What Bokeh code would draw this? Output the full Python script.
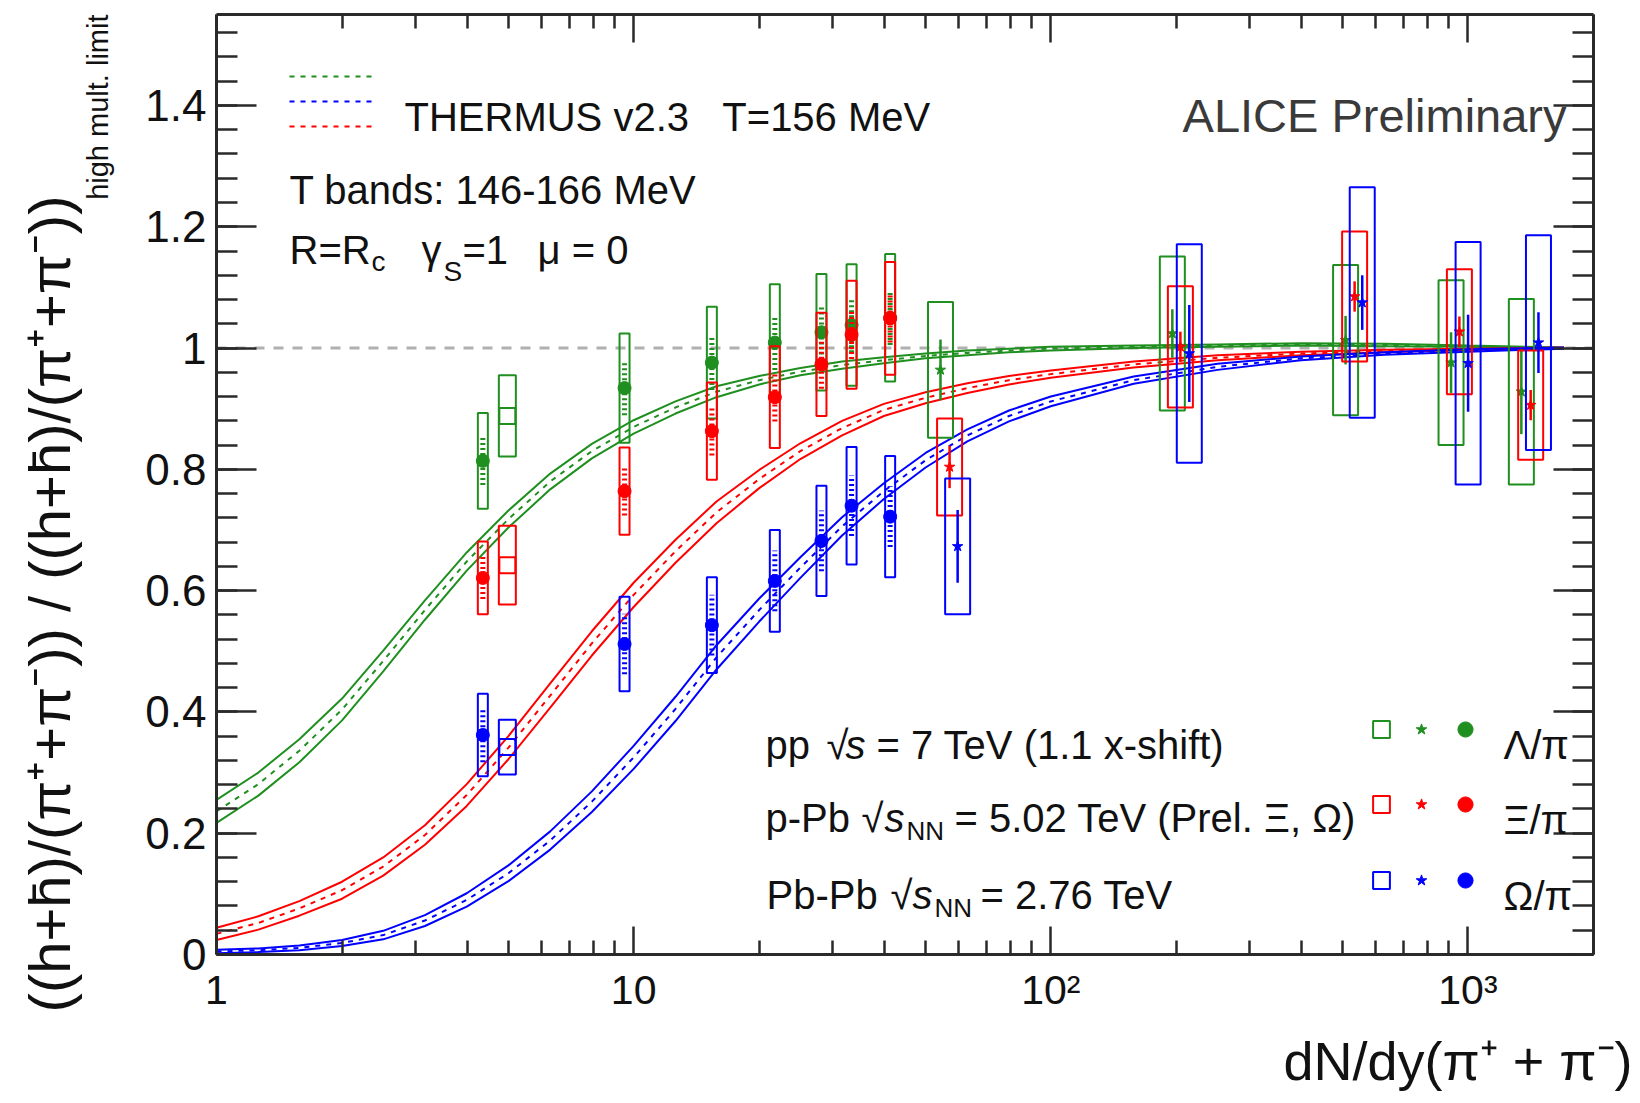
import math
import numpy as np
from bokeh.plotting import figure
from bokeh.models import (FixedTicker, CustomJSTickFormatter, LinearAxis, LogAxis,
                          Span, Label, Legend, LegendItem, Range1d, Title)
from bokeh.embed import file_html
from bokeh.resources import INLINE

# ---------------- data ----------------
curve_x = [1, 1.26, 1.58, 2.0, 2.51, 3.16, 3.98, 5.01, 6.31, 7.94, 10, 12.6, 15.8, 20, 25.1,
           31.6, 39.8, 50.1, 63.1, 79.4, 100, 158, 251, 398, 631, 1000, 1700]
lambda_mid = [0.236, 0.281, 0.336, 0.404, 0.484, 0.568, 0.648, 0.718, 0.780, 0.830, 0.870, 0.902,
              0.928, 0.947, 0.961, 0.972, 0.980, 0.987, 0.992, 0.996, 0.999, 1.002, 1.004, 1.006,
              1.005, 1.003, 1.000]
lambda_hw = [0.019, 0.019, 0.019, 0.018, 0.017, 0.016, 0.015, 0.014, 0.013, 0.012, 0.011, 0.010,
             0.009, 0.007, 0.006, 0.006, 0.005, 0.004, 0.004, 0.003, 0.003, 0.002, 0.002, 0.002,
             0.002, 0.001, 0.001]
xi_mid = [0.034, 0.052, 0.076, 0.106, 0.145, 0.197, 0.263, 0.341, 0.427, 0.513, 0.593, 0.665,
          0.729, 0.784, 0.830, 0.868, 0.898, 0.918, 0.934, 0.947, 0.957, 0.973, 0.984, 0.991,
          0.995, 0.998, 1.000]
xi_hw = [0.010, 0.011, 0.012, 0.014, 0.015, 0.016, 0.018, 0.019, 0.020, 0.020, 0.020, 0.019,
         0.018, 0.015, 0.013, 0.012, 0.010, 0.009, 0.008, 0.007, 0.006, 0.005, 0.004, 0.003,
         0.002, 0.001, 0.001]
omega_mid = [0.005, 0.007, 0.011, 0.019, 0.032, 0.056, 0.090, 0.134, 0.188, 0.252, 0.325, 0.405,
             0.490, 0.568, 0.638, 0.706, 0.764, 0.815, 0.856, 0.888, 0.912, 0.947, 0.969, 0.983,
             0.991, 0.996, 1.000]
omega_hw = [0.003, 0.003, 0.004, 0.005, 0.007, 0.009, 0.011, 0.013, 0.015, 0.017, 0.019, 0.020,
            0.020, 0.019, 0.017, 0.015, 0.013, 0.012, 0.010, 0.009, 0.008, 0.006, 0.005, 0.003,
            0.002, 0.002, 0.001]

# p-Pb 5.02 TeV
ppb_x = [4.35, 9.51, 15.4, 21.8, 28.2, 33.3, 41.2]
ppb_lambda = [0.814, 0.934, 0.976, 1.009, 1.026, 1.038, 1.050]
ppb_lambda_sys = [0.079, 0.090, 0.092, 0.096, 0.096, 0.100, 0.105]
ppb_lambda_stat = [0.040, 0.045, 0.045, 0.045, 0.045, 0.045, 0.045]
ppb_xi = [0.621, 0.764, 0.863, 0.919, 0.973, 1.022, 1.049]
ppb_xi_sys = [0.060, 0.072, 0.080, 0.084, 0.085, 0.089, 0.093]
ppb_xi_stat = [0.035, 0.040, 0.040, 0.040, 0.040, 0.040, 0.040]
ppb_omega = [0.362, 0.512, 0.543, 0.616, 0.682, 0.740, 0.722]
ppb_omega_sys = [0.068, 0.078, 0.079, 0.084, 0.091, 0.097, 0.100]
ppb_omega_stat = [0.045, 0.050, 0.050, 0.050, 0.050, 0.050, 0.050]

# pp 7 TeV (1.1 x-shift)
pp_x = [4.98]
pp_lambda = [0.888]
pp_lambda_sys = [0.067]
pp_xi = [0.642]
pp_xi_sys = [0.065]
pp_omega = [0.342]
pp_omega_sys = [0.045]

# Pb-Pb 2.76 TeV
pbpb_lambda_x = [54.4, 195.6, 509, 911, 1343]
pbpb_lambda = [0.964, 1.024, 1.013, 0.976, 0.928]
pbpb_lambda_sys = [0.112, 0.127, 0.124, 0.136, 0.153]
pbpb_lambda_stat = [0.050, 0.040, 0.040, 0.050, 0.070]
pbpb_xi_x = [57.2, 204.5, 535, 954, 1414]
pbpb_xi = [0.804, 1.002, 1.085, 1.027, 0.906]
pbpb_xi_sys = [0.080, 0.100, 0.107, 0.103, 0.090]
pbpb_xi_stat = [0.035, 0.025, 0.025, 0.025, 0.025]
pbpb_omega_x = [59.8, 214.8, 558, 1001, 1476]
pbpb_omega = [0.673, 0.991, 1.075, 0.975, 1.009]
pbpb_omega_sys = [0.112, 0.180, 0.190, 0.200, 0.177]
pbpb_omega_stat = [0.060, 0.080, 0.045, 0.080, 0.050]

x_major = [1, 10, 100, 1000]
x_minor = [2, 3, 4, 5, 6, 7, 8, 9, 20, 30, 40, 50, 60, 70, 80, 90,
           200, 300, 400, 500, 600, 700, 800, 900, 2000]
y_major = [0, 0.2, 0.4, 0.6, 0.8, 1, 1.2, 1.4]
y_minor = [round(0.04 * i, 2) for i in range(39)]

GREEN = "#1f8f1f"
RED = "#ff0000"
BLUE = "#0000ff"
FONT = "Liberation Sans"
INK = "#111111"

# ---------------- layout geometry ----------------
W, H = 1640, 1103
L, R, T, B = 216, 1593, 14, 955
XMIN, XMAX = 1.0, 2000.0
YMIN, YMAX = 0.0, 1.55
LX0, LX1 = math.log10(XMIN), math.log10(XMAX)


def dx(px):
    return 10 ** (LX0 + (px - L) / (R - L) * (LX1 - LX0))


def dy(py):
    return YMIN + (B - py) / (B - T) * (YMAX - YMIN)


p = figure(width=W, height=H, x_axis_type="log",
           x_range=Range1d(XMIN, XMAX), y_range=Range1d(YMIN, YMAX),
           output_backend="svg", toolbar_location=None,
           min_border_left=L, min_border_right=W - R,
           min_border_top=T, min_border_bottom=H - B)
p.outline_line_color = None
p.grid.visible = False
p.background_fill_color = "white"
p.border_fill_color = "white"

xt = FixedTicker(ticks=x_major, minor_ticks=x_minor)
yt = FixedTicker(ticks=y_major, minor_ticks=y_minor)
xfmt = CustomJSTickFormatter(code="""
const m = {"1": "1", "10": "10", "100": "10\u00b2", "1000": "10\u00b3"};
const k = String(tick);
return (k in m) ? m[k] : "";
""")
yfmt = CustomJSTickFormatter(code="return String(tick);")
blank = CustomJSTickFormatter(code="return '';")


def style_axis(ax, major_in, minor_in, labels, standoff=10, size=41):
    ax.axis_line_color = "#2a2a2a"
    ax.axis_line_width = 3
    ax.major_tick_in = major_in
    ax.major_tick_out = 0
    ax.minor_tick_in = minor_in
    ax.minor_tick_out = 0
    ax.major_tick_line_color = "#2a2a2a"
    ax.major_tick_line_width = 2.5
    ax.minor_tick_line_color = "#2a2a2a"
    ax.minor_tick_line_width = 2.5
    ax.axis_label = None
    if labels:
        ax.major_label_text_font = FONT
        ax.major_label_text_font_size = f"{size}px"
        ax.major_label_text_color = INK
        ax.major_label_standoff = standoff
    else:
        ax.major_label_text_font_size = "0px"
        ax.major_label_standoff = 0


xa = p.xaxis[0]
xa.ticker = xt
xa.formatter = xfmt
style_axis(xa, 28, 14, True, standoff=12, size=41)
ya = p.yaxis[0]
ya.ticker = yt
ya.formatter = yfmt
style_axis(ya, 40, 21, True, standoff=10, size=44)

top = LogAxis(ticker=xt, formatter=blank)
style_axis(top, 28, 14, False)
p.add_layout(top, "above")
right = LinearAxis(ticker=yt, formatter=blank)
style_axis(right, 40, 21, False)
p.add_layout(right, "right")

# axis titles as side-panel titles (not clipped by the frame)
p.add_layout(Title(text="dN/dy(\u03c0\u207a + \u03c0\u207b)", align="right", offset=-39,
                   standoff=26, vertical_align="bottom", text_font=FONT,
                   text_font_size="54px", text_font_style="normal", text_color=INK), "below")

ytitle = "((h+h\u0304)/(\u03c0\u207a+\u03c0\u207b)) / ((h+h\u0304)/(\u03c0\u207a+\u03c0\u207b))"
try:
    main_t = Title(text=ytitle, align="right", offset=181, standoff=-63,
                   vertical_align="bottom", text_font=FONT, text_font_size="58px",
                   text_font_style="normal", text_color=INK)
    sub_standoff = 58
except Exception:
    main_t = Title(text=ytitle, align="right", offset=181, standoff=0,
                   vertical_align="bottom", text_font=FONT, text_font_size="56px",
                   text_font_style="normal", text_color=INK)
    sub_standoff = 34
p.add_layout(Title(text="high mult. limit", align="right", offset=0, standoff=sub_standoff,
                   vertical_align="bottom", text_font=FONT, text_font_size="29px",
                   text_font_style="normal", text_color=INK), "left")
p.add_layout(main_t, "left")

p.add_layout(Span(location=1.0, dimension="width", line_color="#b0b0b0",
                  line_width=3, line_dash="10 9", level="underlay"))

# ---------------- THERMUS curves ----------------
center = {}
for name, mid, hw, col in [("L", lambda_mid, lambda_hw, GREEN),
                           ("X", xi_mid, xi_hw, RED),
                           ("O", omega_mid, omega_hw, BLUE)]:
    m = np.array(mid)
    h = np.array(hw)
    p.line(curve_x, m + h, line_color=col, line_width=2)
    p.line(curve_x, m - h, line_color=col, line_width=2)
    center[name] = p.line(curve_x, m, line_color=col, line_width=2, line_dash="5 6")

# ---------------- data points ----------------
ppb_r, pp_r, pbpb_r = {}, {}, {}
sets = [("L", GREEN, ppb_lambda, ppb_lambda_sys, ppb_lambda_stat, pp_lambda, pp_lambda_sys,
         pbpb_lambda_x, pbpb_lambda, pbpb_lambda_sys, pbpb_lambda_stat),
        ("X", RED, ppb_xi, ppb_xi_sys, ppb_xi_stat, pp_xi, pp_xi_sys,
         pbpb_xi_x, pbpb_xi, pbpb_xi_sys, pbpb_xi_stat),
        ("O", BLUE, ppb_omega, ppb_omega_sys, ppb_omega_stat, pp_omega, pp_omega_sys,
         pbpb_omega_x, pbpb_omega, pbpb_omega_sys, pbpb_omega_stat)]

for (name, col, py_, psys, pstat, ppy, ppsys, bx, by, bsys, bstat) in sets:
    py_a, psys_a, pstat_a = np.array(py_), np.array(psys), np.array(pstat)
    by_a, bsys_a, bstat_a = np.array(by), np.array(bsys), np.array(bstat)
    # pp
    p.rect(x=pp_x, y=ppy, width=17, width_units="screen", height=2 * np.array(ppsys),
           fill_alpha=0, line_color=col, line_width=2)
    pp_r[name] = p.scatter(pp_x, ppy, marker="square", size=16, fill_alpha=0,
                           line_color=col, line_width=2)
    # p-Pb
    p.rect(x=ppb_x, y=py_, width=10, width_units="screen", height=2 * psys_a,
           fill_alpha=0, line_color=col, line_width=2)
    p.segment(x0=ppb_x, y0=py_a - pstat_a, x1=ppb_x, y1=py_a + pstat_a,
              line_color=col, line_width=5, line_dash="2 3")
    ppb_r[name] = p.scatter(ppb_x, py_, marker="circle", size=13, fill_color=col,
                            line_color=col)
    # Pb-Pb
    p.rect(x=bx, y=by, width=25, width_units="screen", height=2 * bsys_a,
           fill_alpha=0, line_color=col, line_width=2)
    p.segment(x0=bx, y0=by_a - bstat_a, x1=bx, y1=by_a + bstat_a,
              line_color=col, line_width=2.5)
    pbpb_r[name] = p.scatter(bx, by, marker="star", size=11, fill_color=col, line_color=col)


# ---------------- legends (glyph keys) ----------------
def key_legend(renderers, left, top_, gw, gh, spacing=0):
    n = len(renderers)
    tot = n * gh + (n - 1) * spacing
    lg = Legend(items=[LegendItem(label=" ", renderers=[r]) for r in renderers],
                location=(left - L, B - top_ - tot),
                padding=0, margin=0, spacing=spacing,
                glyph_width=gw, glyph_height=gh,
                label_width=0, label_height=0, label_standoff=0,
                label_text_font_size="1px", label_text_alpha=0,
                border_line_alpha=0, background_fill_alpha=0)
    p.add_layout(lg)


# THERMUS dashed keys
key_legend([center["L"], center["O"], center["X"]], 289, 67, 86, 20, spacing=5)


def marker_key(renderer, cx, cy, size):
    g = int(round(size / 0.4))
    key_legend([renderer], cx - g / 2, cy - g / 2, g, g)


k_sq = p.scatter([], [], marker="square", size=19, fill_alpha=0, line_color="black", line_width=2)
k_ci = p.scatter([], [], marker="circle", size=17, fill_color="black", line_color="black")
k_st = p.scatter([], [], marker="star", size=13, fill_color="black", line_color="black")
marker_key(k_sq, 727, 731, 19)
marker_key(k_ci, 727, 806, 17)
marker_key(k_st, 727, 880, 13)

rows_y = [730, 805, 881]
for name, yy in zip(["L", "X", "O"], rows_y):
    marker_key(pp_r[name], 1381, yy, 17)
    marker_key(pbpb_r[name], 1421, yy, 11)
    marker_key(ppb_r[name], 1465, yy, 15)


# ---------------- texts inside the frame ----------------
def text(px, py, s, size, align="left", baseline="alphabetic", color=INK,
         style="normal", angle=0.0):
    p.add_layout(Label(x=dx(px), y=dy(py), text=s, text_font=FONT,
                       text_font_size=f"{size}px", text_align=align,
                       text_baseline=baseline, text_color=color,
                       text_font_style=style, angle=angle))


NB = "\u00a0"
text(1566, 115, "ALICE Preliminary", 47, align="right", color="#3a3a3a")
text(404, 117, "THERMUS v2.3" + NB * 3 + "T=156 MeV", 40)
text(289, 190, "T bands: 146-166 MeV", 40)
text(289, 250, "R=R", 40)
text(371, 261, "c", 28)
text(421, 250, "\u03b3", 40)
text(443, 271, "S", 28)
text(462, 250, "=1", 40)
text(537, 250, "\u03bc = 0", 40)

# bottom legend texts
text(765, 745, "pp", 40)
text(826, 745, "\u221a", 40)
text(845, 745, "s", 40, style="italic")
text(876, 745, "= 7 TeV (1.1 x-shift)", 40)

text(765, 818, "p-Pb", 40)
text(861, 818, "\u221a", 40)
text(884, 818, "s", 40, style="italic")
text(906, 831, "NN", 26)
text(954, 818, "= 5.02 TeV (Prel. \u039e, \u03a9)", 40)

text(766, 895, "Pb-Pb", 40)
text(890, 895, "\u221a", 40)
text(912, 895, "s", 40, style="italic")
text(934, 908, "NN", 26)
text(980, 895, "= 2.76 TeV", 40)

text(1503, 745, "\u039b/\u03c0", 40)
text(1503, 820, "\u039e/\u03c0", 40)
text(1503, 896, "\u03a9/\u03c0", 40)

open("out.html", "w").write(file_html(p, INLINE))
